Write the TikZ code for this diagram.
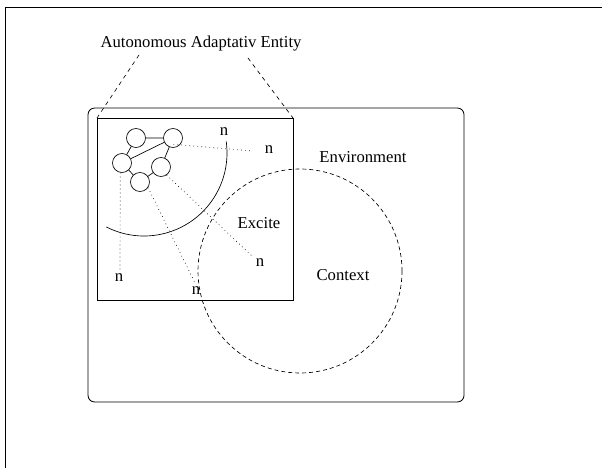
\documentclass[tikz,border=0pt]{standalone}
\usepackage{fontspec}
\setmainfont{Liberation Serif}
\tikzset{
	cell/.style={circle,draw,minimum size=11.4pt,inner sep=0pt},
	tie/.style={dotted},
	zone/.style={dash pattern=on 2.4pt off 1.8pt},
	zoomline/.style={dash pattern=on 2.4pt off 2.4pt},
}
\begin{document}
\begin{tikzpicture}[x=0.6pt,y=-0.6pt]
	\useasboundingbox (0,0) rectangle (602,468);
	\draw[line width=0.5pt] (5,468)--(5,7)--(602,7);
	\draw[line width=0.5pt,rounded corners=4pt] (88,108) rectangle (464,402);
	
	\coordinate (sq1) at (97,118);
	\coordinate (sq2) at (293,300);
	\draw (sq1) rectangle (sq2);
	
	\node (aae) at (201,44) {Autonomous Adaptativ Entity};
	\coordinate (zl) at (139,55);
	\coordinate (zr) at (248,58);
	\draw[zoomline] (zl)--(sq1);
	\draw[zoomline] (zr)--(sq2 |- sq1);
	
	\coordinate (ctx) at (300,271);
	\draw[zone] (ctx) circle[radius=102];
	\node (env) at (363,157) {Environment};
	\node (exc) at (259,223) {Excite};
	\node (con) at (343,275) {Context};
	
	\node[cell] (A) at (136,138) {};
	\node[cell] (B) at (173,138) {};
	\node[cell] (C) at (122,163) {};
	\node[cell] (D) at (161,167) {};
	\node[cell] (E) at (140,182) {};
	\draw (A)--(B) (A)--(C) (B)--(C) (B)--(D) (C)--(E) (E)--(D);
	
	\coordinate (hub) at (144,153);
	\draw (hub) ++(117:83) arc[start angle=117,end angle=-8,radius=83];
	
	\node (n1) at (224,132) {n};
	\node (n2) at (269,150) {n};
	\node (n3) at (119,278) {n};
	\node (n4) at (196,291) {n};
	\node (n5) at (260,263) {n};
	
	\coordinate (e2) at (253,151);
	\coordinate (e3) at (120,270);
	\coordinate (e4) at (195,283);
	\coordinate (e5) at (253,257);
	\draw[tie] ([shift={(0.5,-3.5)}]B.south) -- (e2);
	\draw[tie] (C.-100) -- (e3);
	\draw[tie] (E.-35) -- (e4);
	\draw[tie] (D.-55) -- (e5);
\end{tikzpicture}
\end{document}
